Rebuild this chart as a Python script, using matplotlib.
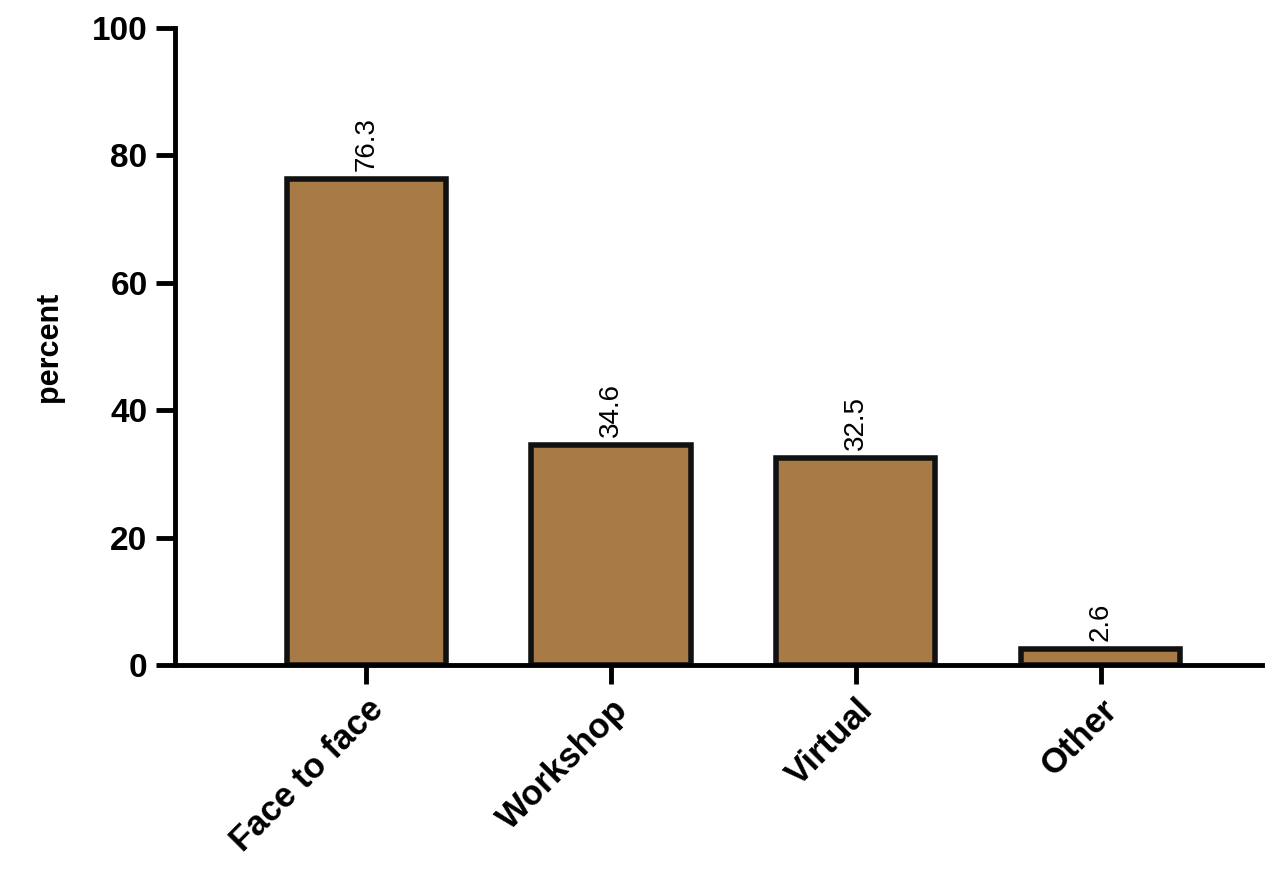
import matplotlib
matplotlib.use("Agg")
import matplotlib.pyplot as plt

categories = ["Face to face", "Workshop", "Virtual", "Other"]
values = [76.3, 34.6, 32.5, 2.6]
yticks = [0, 20, 40, 60, 80, 100]

plt.rcParams['font.family'] = ['Liberation Sans', 'DejaVu Sans']
fig = plt.figure(figsize=(12.8, 8.93), dpi=100)
ax = fig.add_axes([0.137, 0.255, 0.849, 0.714])
x = range(len(categories))
ax.bar(x, values, width=0.65, color="#A87A45", edgecolor="#111111", linewidth=4, zorder=2)
for xi, v in zip(x, values):
    ax.text(xi, v + 1.2, f"{v}", rotation=90, ha="center", va="bottom", fontsize=20)
ax.set_ylim(0, 100)
ax.set_xlim(-0.78, 3.66)
ax.set_yticks(yticks)
ax.set_yticklabels([str(t) for t in yticks], fontsize=24, fontweight="bold")
ax.set_xticks(list(x))
ax.set_xticklabels(categories, rotation=45, ha="right", rotation_mode="anchor",
                   fontsize=25, fontweight="bold")
ax.set_ylabel("percent", fontsize=22, fontweight="bold", labelpad=20)
for s in ["top", "right"]:
    ax.spines[s].set_visible(False)
for s in ["left", "bottom"]:
    ax.spines[s].set_linewidth(3.5)
ax.tick_params(axis="both", width=3.5, length=14, pad=6)
fig.savefig("out.png", dpi=100)
